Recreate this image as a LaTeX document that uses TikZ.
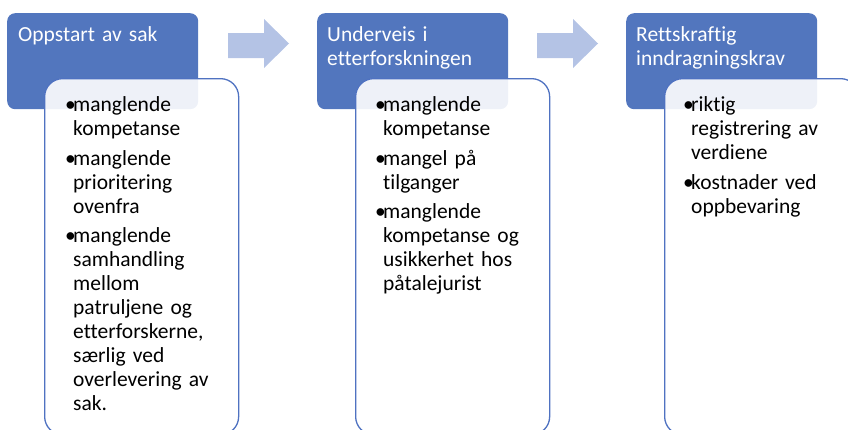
\documentclass[tikz,border=0pt]{standalone}
\usepackage{fontspec}
\setmainfont{Carlito}[Ligatures={NoCommon}]
\definecolor{hdr}{RGB}{82,118,190}
\definecolor{edge}{RGB}{79,114,193}
\definecolor{arr}{RGB}{180,195,229}
\newcommand\bitem[1]{\par\hangindent=8pt\hangafter=1\noindent\makebox[8pt][l]{•}#1}
\begin{document}
\begin{tikzpicture}[x=1pt,y=-1pt,
  hdrbox/.style={fill=hdr, draw=none, rounded corners=8pt, inner sep=0, anchor=north west, minimum width=191pt, minimum height=96pt},
  cbox/.style={fill=white, fill opacity=0.9, draw=edge, draw opacity=1, line width=1.3pt, rounded corners=18pt, inner sep=0, anchor=north west, minimum width=194pt, minimum height=356pt},
  htext/.style={text=white, anchor=north west, inner sep=0, text width=185pt, align=left, font=\fontsize{21.5}{24}\selectfont},
  ctext/.style={text=black, anchor=north west, inner sep=0, text width=190pt, font=\fontsize{21.5}{24}\selectfont, execute at begin node={\setlength\parskip{5.5pt}\raggedright}},
  arrowfill/.style={fill=arr}
]
\useasboundingbox (0,0) rectangle (848,429);
\clip (0,0) rectangle (848,429);

% headers
\node[hdrbox] (h1) at (7,13) {};
\node[hdrbox] (h2) at (317,13) {};
\node[hdrbox] (h3) at (626,13) {};

\node[htext] (ht1) at (18,26) {Oppstart av sak};
\node[htext] (ht2) at (327,26) {Underveis i\\etterforskningen};
\node[htext] (ht3) at (636,26) {Rettskraftig\\inndragningskrav};

% arrows
\fill[arrowfill] (228,33) -- (264,33) -- (264,19) -- (289,43.5) -- (264,68) -- (264,58) -- (228,58) -- cycle;
\fill[arrowfill] (537,33) -- (573,33) -- (573,19) -- (598,43.5) -- (573,68) -- (573,58) -- (537,58) -- cycle;

% content boxes
\node[cbox] (c1) at (44,78) {};
\node[cbox] (c2) at (355,78) {};
\node[cbox] (c3) at (664,78) {};

\node[ctext] (t1) at (65,82) {%
\bitem{manglende\newline kompetanse}%
\bitem{manglende\newline prioritering\newline ovenfra}%
\bitem{manglende\newline samhandling\newline mellom\newline patruljene og\newline etterforskerne,\newline særlig ved\newline overlevering av\newline sak.}\par};

\node[ctext] (t2) at (375,82) {%
\bitem{manglende\newline kompetanse}%
\bitem{mangel på\newline tilganger}%
\bitem{manglende\newline kompetanse og\newline usikkerhet hos\newline påtalejurist}\par};

\node[ctext] (t3) at (683,82) {%
\bitem{riktig\newline registrering av\newline verdiene}%
\bitem{kostnader ved\newline oppbevaring}\par};
\end{tikzpicture}
\end{document}
